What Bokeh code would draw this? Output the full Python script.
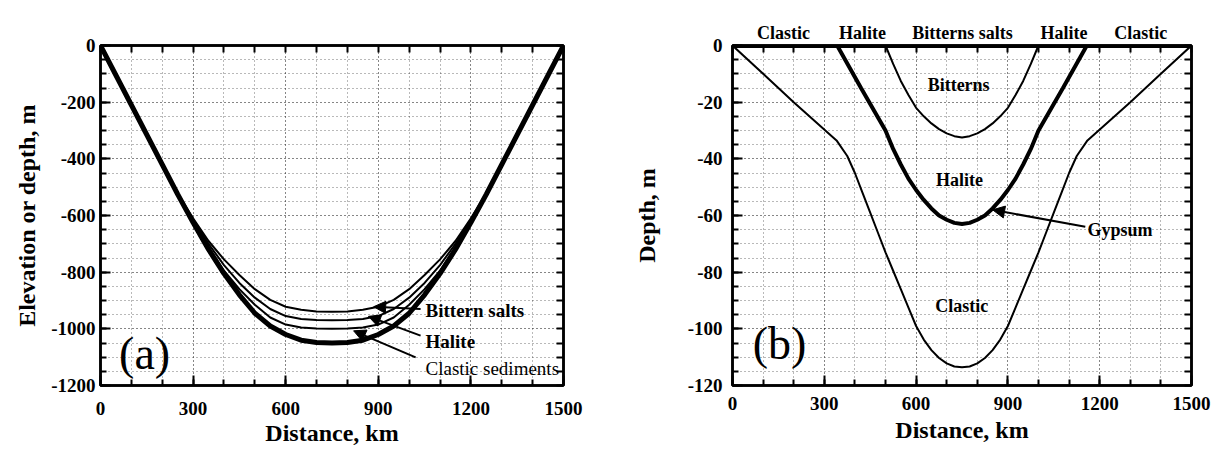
from bokeh.plotting import figure
from bokeh.models import LinearAxis, FixedTicker, Label, Arrow, NormalHead, Range1d
from bokeh.layouts import row
from bokeh.embed import file_html
from bokeh.resources import INLINE

SERIF = "Liberation Serif"

# ---------------- Panel (a) data ----------------
dist_a = [0, 50, 100, 150, 200, 250, 300, 350, 400, 450, 500, 550, 600, 650, 700, 750,
          800, 850, 900, 950, 1000, 1050, 1100, 1150, 1200, 1250, 1300, 1350, 1400, 1450, 1500]
clastic_base = [0, -105, -210, -315, -420, -525, -625, -720, -805, -880, -945, -990, -1020, -1040, -1048, -1050,
                -1048, -1040, -1020, -990, -945, -880, -805, -720, -625, -525, -420, -315, -210, -105, 0]
halite_base = [0, -105, -210, -315, -420, -524, -620, -710, -795, -860, -915, -960, -985, -995, -999, -1000,
               -999, -995, -985, -960, -915, -860, -795, -710, -620, -524, -420, -315, -210, -105, 0]
bittern_base = [0, -105, -210, -315, -420, -523, -615, -700, -775, -838, -890, -930, -955, -965, -969, -970,
                -969, -965, -955, -930, -890, -838, -775, -700, -615, -523, -420, -315, -210, -105, 0]
bittern_top = [0, -105, -210, -315, -420, -522, -610, -690, -755, -810, -860, -898, -922, -933, -939, -940,
               -939, -933, -922, -898, -860, -810, -755, -690, -610, -522, -420, -315, -210, -105, 0]

x_ticks_a = [0, 300, 600, 900, 1200, 1500]
x_minor_a = list(range(0, 1501, 100))
y_ticks_a = [0, -200, -400, -600, -800, -1000, -1200]
y_minor_a = list(range(-1200, 1, 50))

# ---------------- Panel (b) data ----------------
dist_b_clastic = [0, 100, 200, 340, 375, 400, 425, 450, 475, 500, 525, 550, 575, 600, 625, 650, 675, 700, 725, 750,
                  775, 800, 825, 850, 875, 900, 925, 950, 975, 1000, 1025, 1050, 1075, 1100, 1125, 1160, 1300, 1400, 1500]
depth_b_clastic = [0, -10, -20, -33.5, -39, -45, -52, -59, -66, -73, -79.5, -86, -92.5, -99, -103.8, -107.5, -110.3, -112.2, -113.3, -113.6,
                   -113.3, -112.2, -110.3, -107.5, -103.8, -99, -92.5, -86, -79.5, -73, -66, -59, -52, -45, -39, -33.5, -20, -10, 0]
dist_b_halite = [342, 420, 500, 525, 550, 575, 600, 625, 650, 675, 700, 725, 750,
                 775, 800, 825, 850, 875, 900, 925, 950, 975, 1000, 1080, 1158]
depth_b_halite = [0, -15, -30, -36.5, -42, -47, -51, -54.5, -57.5, -60, -61.5, -62.6, -63,
                  -62.6, -61.5, -60, -57.5, -54.5, -51, -47, -42, -36.5, -30, -15, 0]
dist_b_bitterns = [500, 525, 550, 575, 600, 625, 650, 675, 700, 725, 750,
                   775, 800, 825, 850, 875, 900, 925, 950, 975, 1000]
depth_b_bitterns = [0, -6.5, -12.5, -17.5, -22, -25, -27.5, -29.5, -31, -32, -32.5,
                    -32, -31, -29.5, -27.5, -25, -22, -17.5, -12.5, -6.5, 0]

x_ticks_b = [0, 300, 600, 900, 1200, 1500]
x_minor_b = list(range(0, 1501, 100))
y_ticks_b = [0, -20, -40, -60, -80, -100, -120]
y_minor_b = list(range(-120, 1, 5))

top_labels_b = ["Clastic", "Halite", "Bitterns salts", "Halite", "Clastic"]
top_label_x_b = [167, 425, 752, 1083, 1334]


def base_axis(ax):
    ax.axis_line_color = "black"
    ax.axis_line_width = 2.5
    ax.major_tick_in = 10
    ax.major_tick_out = 0
    ax.minor_tick_in = 6
    ax.minor_tick_out = 0
    ax.major_tick_line_width = 2
    ax.minor_tick_line_width = 2
    ax.major_tick_line_color = "black"
    ax.minor_tick_line_color = "black"
    ax.major_label_text_font = SERIF
    ax.major_label_text_font_style = "bold"
    ax.major_label_text_font_size = "19px"
    ax.major_label_text_color = "black"
    ax.axis_label_text_font = SERIF
    ax.axis_label_text_font_style = "bold"
    ax.axis_label_text_font_size = "24px"
    ax.axis_label_text_color = "black"


def style(p, xt, xm, yt, ym):
    p.outline_line_color = "black"
    p.outline_line_width = 2.5
    p.background_fill_color = "white"
    p.border_fill_color = "white"
    xa = p.below[0]
    ya = p.left[0]
    xa.ticker = FixedTicker(ticks=xt, minor_ticks=xm)
    ya.ticker = FixedTicker(ticks=yt, minor_ticks=ym)
    xa.major_label_overrides = {v: str(v) for v in xt}
    ya.major_label_overrides = {v: str(v) for v in yt}
    base_axis(xa)
    base_axis(ya)
    # right-hand axis: tick marks only (minor ticks carry no labels)
    ra = LinearAxis(ticker=FixedTicker(ticks=[], minor_ticks=ym))
    base_axis(ra)
    ra.minor_tick_in = 7
    p.add_layout(ra, "right")
    for g in p.grid:
        g.grid_line_color = "black"
        g.grid_line_alpha = 0.55
        g.grid_line_dash = "1 3"
        g.grid_line_width = 1
        g.minor_grid_line_color = "black"
        g.minor_grid_line_alpha = 0.55
        g.minor_grid_line_dash = "1 3"
        g.minor_grid_line_width = 1
    p.xgrid.ticker = FixedTicker(ticks=xt, minor_ticks=xm)
    p.ygrid.ticker = FixedTicker(ticks=yt, minor_ticks=ym)
    return xa, ya


# ---------------- Figure (a) ----------------
pa = figure(width=616, height=455, output_backend="svg", toolbar_location=None,
            x_range=Range1d(0, 1500), y_range=Range1d(-1200, 0),
            min_border_left=100, min_border_right=53, min_border_top=12, min_border_bottom=69)
xa, ya = style(pa, x_ticks_a, x_minor_a, y_ticks_a, y_minor_a)
ta = LinearAxis(ticker=FixedTicker(ticks=[], minor_ticks=x_minor_a))
base_axis(ta)
ta.minor_tick_in = 7
pa.add_layout(ta, "above")
xa.axis_label = "Distance, km"
ya.axis_label = "Elevation or depth, m"
xa.major_label_standoff = 16
xa.axis_label_standoff = 2
ya.major_label_standoff = 5
ya.axis_label_standoff = 8

pa.line(dist_a, clastic_base, line_color="black", line_width=5)
pa.line(dist_a, halite_base, line_color="black", line_width=2)
pa.line(dist_a, bittern_base, line_color="black", line_width=2)
pa.line(dist_a, bittern_top, line_color="black", line_width=2)

for txt, yy, st in [("Bittern salts", -934, "bold"), ("Halite", -1043, "bold"),
                    ("Clastic sediments", -1139, "normal")]:
    pa.add_layout(Label(x=1053, y=yy, text=txt, text_font=SERIF, text_font_size="19px",
                        text_font_style=st, text_baseline="middle", text_align="left",
                        text_color="black"))
for (x0, y0, x1, y1) in [(1037, -930, 885, -922), (1037, -1024, 868, -956), (1021, -1101, 820, -1007)]:
    pa.add_layout(Arrow(x_start=x0, y_start=y0, x_end=x1, y_end=y1, line_width=2, line_color="black",
                        end=NormalHead(size=12, fill_color="black", line_color="black")))
pa.add_layout(Label(x=143, y=-1088, text="(a)", text_font=SERIF, text_font_size="46px",
                    text_baseline="middle", text_align="center", text_color="black"))

# ---------------- Figure (b) ----------------
pb = figure(width=600, height=455, output_backend="svg", toolbar_location=None,
            x_range=Range1d(0, 1500), y_range=Range1d(-120, 0),
            min_border_left=116, min_border_right=25, min_border_top=45, min_border_bottom=70)
xb, yb = style(pb, x_ticks_b, x_minor_b, y_ticks_b, y_minor_b)
tb = LinearAxis(ticker=FixedTicker(ticks=top_label_x_b, minor_ticks=x_minor_b),
                major_label_overrides={v: t for v, t in zip(top_label_x_b, top_labels_b)})
base_axis(tb)
tb.major_tick_in = 0
tb.minor_tick_in = 7
tb.major_label_text_font_size = "18px"
tb.major_label_standoff = 3
pb.add_layout(tb, "above")
xb.axis_label = "Distance, km"
yb.axis_label = "Depth, m"
xb.major_label_standoff = 11
xb.axis_label_standoff = 4
yb.major_label_standoff = 10
yb.axis_label_standoff = 25

pb.line(dist_b_clastic, depth_b_clastic, line_color="black", line_width=2)
pb.line(dist_b_halite, depth_b_halite, line_color="black", line_width=4)
pb.line(dist_b_bitterns, depth_b_bitterns, line_color="black", line_width=2)
pb.line([0, 1500], [0, 0], line_color="black", line_width=5)

for txt, xx, yy in [("Bitterns", 739, -14), ("Halite", 742, -47.6), ("Clastic", 749, -92)]:
    pb.add_layout(Label(x=xx, y=yy, text=txt, text_font=SERIF, text_font_size="18px",
                        text_font_style="bold", text_baseline="middle", text_align="center",
                        text_color="black"))
pb.add_layout(Label(x=1160, y=-65, text="Gypsum", text_font=SERIF, text_font_size="18px",
                    text_font_style="bold", text_baseline="middle", text_align="left",
                    text_color="black"))
pb.add_layout(Arrow(x_start=1153, y_start=-64, x_end=850, y_end=-58, line_width=2, line_color="black",
                    end=NormalHead(size=12, fill_color="black", line_color="black")))
pb.add_layout(Label(x=154, y=-105, text="(b)", text_font=SERIF, text_font_size="46px",
                    text_baseline="middle", text_align="center", text_color="black"))

layout = row(pa, pb)
open("out.html", "w").write(file_html(layout, INLINE))
